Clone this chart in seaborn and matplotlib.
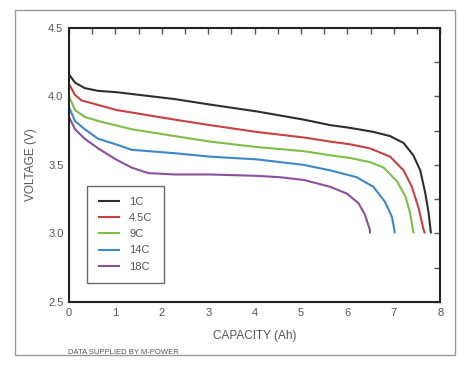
import matplotlib
matplotlib.use("Agg")
import matplotlib.pyplot as plt
import seaborn as sns
import pandas as pd
from matplotlib.patches import Rectangle
from matplotlib.ticker import MultipleLocator

sns.set_style("white")
plt.rcParams['font.family'] = ['Liberation Sans Narrow', 'Liberation Sans', 'DejaVu Sans']

rates = ["1C", "4.5C", "9C", "14C", "18C"]
colors = ["#2e2e2e", "#c8413f", "#7bbf45", "#3b88c8", "#8c4f9c"]

cap_1c = [0.0, 0.13, 0.34, 0.63, 1.03, 2.28, 3.04, 4.05, 5.06, 5.63, 6.06, 6.57, 6.92, 7.21, 7.42, 7.57, 7.68, 7.75, 7.80]
v_1c = [4.16, 4.10, 4.06, 4.04, 4.03, 3.98, 3.94, 3.89, 3.83, 3.79, 3.77, 3.74, 3.71, 3.66, 3.57, 3.46, 3.29, 3.15, 3.00]

cap_4c = [0.0, 0.13, 0.27, 0.49, 1.03, 2.28, 3.04, 4.05, 5.06, 5.63, 6.06, 6.49, 6.92, 7.21, 7.39, 7.53, 7.64, 7.67]
v_4c = [4.09, 4.01, 3.97, 3.95, 3.90, 3.83, 3.79, 3.74, 3.70, 3.67, 3.65, 3.62, 3.56, 3.46, 3.34, 3.19, 3.03, 3.00]

cap_9c = [0.0, 0.13, 0.34, 0.63, 1.35, 2.28, 3.04, 4.05, 5.06, 5.63, 6.06, 6.49, 6.78, 7.07, 7.25, 7.35, 7.41, 7.43]
v_9c = [4.00, 3.90, 3.85, 3.82, 3.76, 3.71, 3.67, 3.63, 3.60, 3.57, 3.55, 3.52, 3.48, 3.38, 3.27, 3.15, 3.03, 3.00]

cap_14c = [0.0, 0.13, 0.34, 0.63, 1.01, 1.35, 2.28, 3.04, 4.05, 5.06, 5.63, 6.20, 6.56, 6.81, 6.96, 7.01, 7.02]
v_14c = [3.92, 3.82, 3.76, 3.69, 3.65, 3.61, 3.585, 3.56, 3.54, 3.50, 3.46, 3.41, 3.34, 3.23, 3.12, 3.03, 3.00]

cap_18c = [0.0, 0.13, 0.34, 0.63, 1.01, 1.35, 1.71, 2.28, 3.04, 4.05, 4.55, 5.06, 5.63, 5.99, 6.24, 6.38, 6.48, 6.49]
v_18c = [3.85, 3.76, 3.69, 3.62, 3.54, 3.48, 3.44, 3.43, 3.43, 3.42, 3.41, 3.39, 3.34, 3.29, 3.22, 3.135, 3.03, 3.00]

caps = [cap_1c, cap_4c, cap_9c, cap_14c, cap_18c]
volts = [v_1c, v_4c, v_9c, v_14c, v_18c]

frames = []
for r, c, v in zip(rates, caps, volts):
    frames.append(pd.DataFrame({"cap": c, "volt": v, "rate": r}))
df = pd.concat(frames, ignore_index=True)

fig = plt.figure(figsize=(4.6, 3.66), dpi=100)
ax = fig.add_axes([0.150, 0.175, 0.807, 0.749])

sns.lineplot(data=df, x="cap", y="volt", hue="rate", hue_order=rates,
             palette=colors, sort=False, linewidth=1.5, ax=ax, estimator=None,
             solid_joinstyle="round", solid_capstyle="butt")

ax.set_xlim(0, 8)
ax.set_ylim(2.5, 4.5)
ax.xaxis.set_major_locator(MultipleLocator(1))
ax.xaxis.set_minor_locator(MultipleLocator(0.5))
ax.yaxis.set_major_locator(MultipleLocator(0.5))
ax.yaxis.set_minor_locator(MultipleLocator(0.25))
ax.set_yticks([2.5, 3.0, 3.5, 4.0, 4.5])
ax.set_yticklabels(["2.5", "3.0", "3.5", "4.0", "4.5"])
ax.tick_params(which="both", direction="in", top=True, right=True, length=4, width=1,
               color="#555555", labelsize=8, labelcolor="#555555", pad=4)
for s in ax.spines.values():
    s.set_color("#222222")
    s.set_linewidth(1.5)

ax.set_xlabel("CAPACITY (Ah)", fontsize=8.5, color="#555555", labelpad=9)
ax.set_ylabel("VOLTAGE (V)", fontsize=8.5, color="#555555", labelpad=8)

leg = ax.legend(loc="lower left", bbox_to_anchor=(0.033, 0.05), fontsize=8,
                frameon=True, fancybox=False, handlelength=2.0, borderpad=1.0,
                labelspacing=0.55, title=None, labelcolor="#555555")
leg.get_frame().set_edgecolor("#444444")
leg.get_frame().set_linewidth(1.0)

fig.text(68 / 460, 1 - 353 / 366, "DATA SUPPLIED BY M-POWER", fontsize=5.5,
         color="#555555", va="center", ha="left")

fig.patches.append(Rectangle((15 / 460, 1 - 355 / 366), 440 / 460, 345 / 366,
                             transform=fig.transFigure, fill=False,
                             edgecolor="#999999", linewidth=1.0))

fig.savefig("out.png", dpi=100)
